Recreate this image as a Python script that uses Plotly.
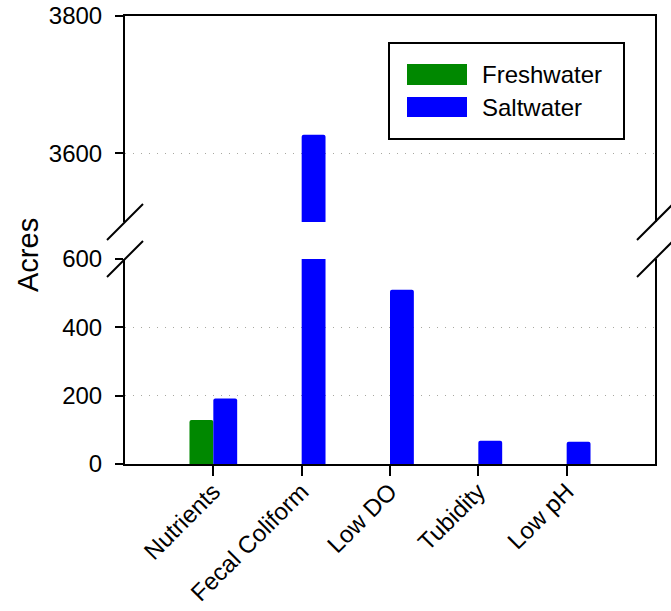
import plotly.graph_objects as go

categories = ["Nutrients", "Fecal Coliform", "Low DO", "Tubidity", "Low pH"]
freshwater = [129, None, None, None, None]
saltwater = [192, 3627, 510, 68, 65]
series_names = ["Freshwater", "Saltwater"]
series_colors = ["#008800", "#0000FF"]
lower_ticks = [0, 200, 400, 600]
upper_ticks = [3600, 3800]

FONT = "Liberation Sans, Arial, sans-serif"

fig = go.Figure()
for xa, ya in (("x", "y"), ("x2", "y2")):
    for name, vals, col in zip(series_names, [freshwater, saltwater], series_colors):
        fig.add_trace(go.Bar(x=categories, y=vals, name=name, xaxis=xa, yaxis=ya,
                             marker=dict(color=col, line=dict(width=0), cornerradius=2),
                             showlegend=False))

W, H = 671, 611
# plot area in page pixels: x 125..655, y 16..464
ml, mr, mt, mb = 125, 16, 16, 611 - 464
pw, ph = W - ml - mr, H - mt - mb
def px(xp):  # page pixel -> paper
    return (xp - ml) / pw
def py(yp):
    return (H - mb - yp) / ph

lower_dom = [0, py(259)]
upper_dom = [py(222), 1]

axis_common = dict(showline=True, linecolor="black", linewidth=2, automargin=False,
                   tickfont=dict(family=FONT, size=24, color="black"))
GRID = dict(showgrid=True, gridcolor="#a8a8a0", griddash="1px,7px", gridwidth=1)

fig.update_layout(
    template="none",
    width=W, height=H, autosize=False,
    margin=dict(l=ml, r=mr, t=mt, b=mb, autoexpand=False),
    paper_bgcolor="white", plot_bgcolor="white",
    barmode="group", bargap=0.46, bargroupgap=0,
    font=dict(family=FONT, size=24, color="black"),
    xaxis=dict(type="category", range=[-1, 4 + 1], anchor="y", ticks="outside",
               ticklen=10, tickwidth=2, tickcolor="black", tickangle=-45,
               ticklabelstandoff=-8,
               showgrid=False, mirror=False, zeroline=False, **axis_common),
    xaxis2=dict(type="category", range=[-1, 5], anchor="y2", matches="x", side="top",
                showticklabels=False, ticks="", showgrid=False, showline=True,
                zeroline=False, linecolor="black", linewidth=2, automargin=False),
    yaxis=dict(domain=lower_dom, range=[0, 600], tickvals=lower_ticks, anchor="x",
               ticks="outside", ticklen=8, tickwidth=2, tickcolor="black",
               mirror=True, zeroline=False, ticklabelstandoff=8, **GRID, **axis_common),
    yaxis2=dict(domain=upper_dom, range=[3500, 3800], tickvals=upper_ticks, anchor="x2",
                ticks="outside", ticklen=8, tickwidth=2, tickcolor="black",
                mirror=True, zeroline=False, ticklabelstandoff=8, **GRID, **axis_common),
)

# axis title spanning both segments
fig.add_annotation(text="Acres", xref="paper", yref="paper", x=px(28), y=py(255),
                   showarrow=False, textangle=-90, xanchor="center", yanchor="middle",
                   font=dict(family=FONT, size=29, color="black"))

# break marks
shapes = []
for xa in (0, 1):
    for ya in (upper_dom[0], lower_dom[1]):
        shapes.append(dict(type="line", xref="paper", yref="paper",
                           xsizemode="pixel", ysizemode="pixel",
                           xanchor=xa, yanchor=ya, x0=-18, x1=18, y0=-18, y1=18,
                           line=dict(color="black", width=2)))

# manual legend
shapes.append(dict(type="rect", xref="paper", yref="paper",
                   x0=px(389), x1=px(624), y0=py(139), y1=py(43),
                   line=dict(color="black", width=2), fillcolor="white"))
sw_y = [(64, 85), (97, 117)]
for (y0, y1), name, col in zip(sw_y, series_names, series_colors):
    shapes.append(dict(type="rect", xref="paper", yref="paper",
                       x0=px(407), x1=px(467), y0=py(y1), y1=py(y0),
                       line=dict(width=0), fillcolor=col))
    fig.add_annotation(text=name, xref="paper", yref="paper", x=px(480),
                       y=py((y0 + y1) / 2), showarrow=False, xanchor="left",
                       yanchor="middle", font=dict(family=FONT, size=24, color="black"))
fig.update_layout(shapes=shapes)

fig.write_html("out.html", config={"displayModeBar": False},
               post_script="document.body.style.margin='0';document.body.style.overflow='hidden';")
